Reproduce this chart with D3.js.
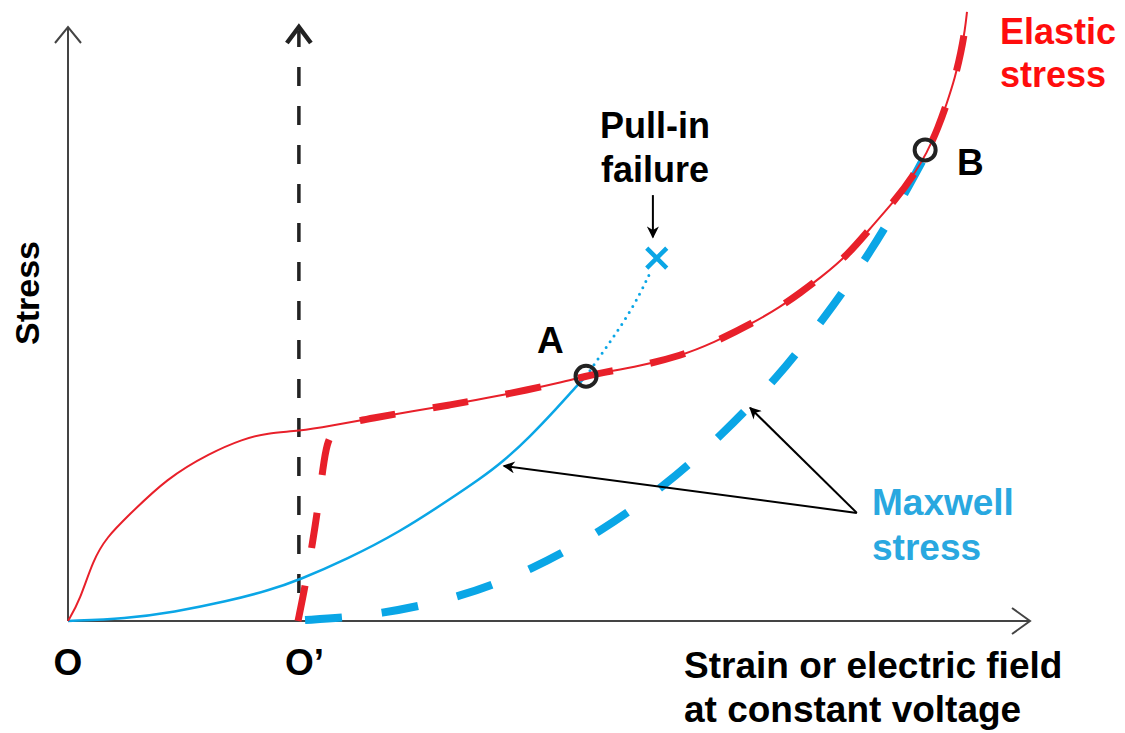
<!DOCTYPE html>
<html>
<head>
<meta charset="utf-8">
<script src="https://cdn.jsdelivr.net/npm/d3@7"></script>
<style>
  html, body { margin: 0; padding: 0; background: #fff; }
  svg { display: block; }
  text { font-family: "Liberation Sans", Arial, sans-serif; font-weight: bold; }
</style>
</head>
<body>
<svg id="chart" width="1125" height="733"></svg>
<script>
// ---------- data (abstract units: x 0-100, y 0-100) ----------
const elasticX = [0, 1.25, 2.6, 4.05, 6.13, 10.29, 14.76, 18.19, 20.69, 24.01, 27.23, 31.70, 35.86, 39.71, 43.56, 47.71, 51.46, 53.95, 55.30, 59.46, 63.62, 67.05, 71.21, 74.01, 76.09, 78.17, 80.98, 83.68, 86.17, 87.84, 89.29, 90.44, 91.37, 92.20, 92.83, 93.24, 93.45];
const elasticY = [0, 3.54, 10.27, 14.14, 17.51, 24.07, 28.28, 30.64, 31.65, 31.99, 32.83, 34.18, 35.35, 36.36, 37.54, 38.89, 40.24, 41.25, 41.75, 42.93, 44.61, 46.80, 50.17, 52.86, 55.22, 57.74, 61.45, 66.67, 71.21, 74.92, 78.79, 83.00, 87.21, 91.41, 95.79, 99.49, 102.53];

const reloadX = [23.91, 24.64, 25.47, 25.99, 26.51, 26.92, 27.55, 28.79, 31.70, 35.86, 39.71, 43.56, 47.71, 51.46, 53.95, 55.30, 59.46, 63.62, 67.05, 71.21, 74.01, 76.09, 78.17, 80.98, 83.68, 86.17, 87.84, 89.29, 90.44, 91.37, 92.20, 92.83, 93.24, 93.45];
const reloadY = [0, 5.72, 13.64, 19.19, 25.93, 29.97, 31.99, 33.25, 34.18, 35.35, 36.36, 37.54, 38.89, 40.24, 41.25, 41.75, 42.93, 44.61, 46.80, 50.17, 52.86, 55.22, 57.74, 61.45, 66.67, 71.21, 74.92, 78.79, 83.00, 87.21, 91.41, 95.79, 99.49, 102.53];

const maxwellX = [0, 6, 11, 16.5, 21, 24, 29, 34.5, 39.7, 42.8, 45.2, 48, 50.8, 52.9, 53.85];
const maxwellY = [0, 0.4, 1.5, 3.3, 5.2, 6.9, 10.4, 15.0, 20.5, 23.9, 26.8, 31.0, 35.8, 39.6, 41.2];

const pullinX = [53.85, 55.4, 56.7, 58.1, 59.5, 60.5];
const pullinY = [41.2, 44.8, 47.8, 51.2, 55.2, 58.6];

const maxwell2X = [24.64, 28.48, 32.74, 36.59, 40.75, 44.39, 48.34, 51.77, 55.30, 58.73, 61.85, 64.97, 68.09, 70.89, 73.70, 76.09, 78.90, 80.98, 83.37, 85.65, 87.53, 89.09];
const maxwell2Y = [0.17, 0.51, 1.35, 2.53, 4.21, 6.23, 8.92, 11.78, 15.15, 18.86, 22.73, 26.94, 31.65, 36.20, 41.08, 45.79, 51.68, 56.40, 62.12, 68.18, 73.57, 78.28];

const pointNames = ["A", "B"];
const pointX = [53.85, 89.1];
const pointY = [41.2, 79.3];

const failX = 61.2, failY = 61.1;
const originPrime = 24.0;

// ---------- layout ----------
const svg = d3.select("#chart");
const x = d3.scaleLinear().domain([0, 100]).range([68, 1030]);
const y = d3.scaleLinear().domain([0, 100]).range([621, 27]);

const RED = "#e8202a", BLUE = "#0aa6e6", DARK = "#222";

const zip = (xs, ys) => xs.map((v, i) => [v, ys[i]]);
const line = d3.line().x(d => x(d[0])).y(d => y(d[1])).curve(d3.curveBasis);

// arrow marker
const defs = svg.append("defs");
defs.append("marker").attr("id", "arr").attr("viewBox", "0 0 10 10")
  .attr("refX", 9).attr("refY", 5)
  .attr("orient", "auto-start-reverse").attr("markerUnits", "userSpaceOnUse")
  .attr("markerWidth", 14).attr("markerHeight", 12)
  .append("path").attr("d", "M0,0 L10,5 L0,10 L3,5 Z").attr("fill", "#000");

// axes
const axisG = svg.append("g").attr("stroke", "#444").attr("stroke-width", 2).attr("fill", "none");
axisG.append("line").attr("x1", x(0)).attr("y1", y(0)).attr("x2", x(0)).attr("y2", y(100));
axisG.append("path").attr("d", `M${x(0)-13},${y(100)+16} L${x(0)},${y(100)} L${x(0)+13},${y(100)+16}`);
axisG.append("line").attr("x1", x(0)).attr("y1", y(0)).attr("x2", x(100)).attr("y2", y(0));
axisG.append("path").attr("d", `M${x(100)-18},${y(0)-13} L${x(100)},${y(0)} L${x(100)-18},${y(0)+13}`);

// dashed vertical through O'
svg.append("line").attr("x1", x(originPrime)).attr("x2", x(originPrime))
  .attr("y1", y(0)).attr("y2", y(100) + 4)
  .attr("stroke", DARK).attr("stroke-width", 3.5).attr("stroke-dasharray", "19,20").attr("stroke-dashoffset", 11);
svg.append("path").attr("d", `M${x(originPrime)-12},${y(100)+16} L${x(originPrime)},${y(100)} L${x(originPrime)+12},${y(100)+16}`)
  .attr("stroke", DARK).attr("stroke-width", 4.5).attr("fill", "none");

// curves
svg.append("path").attr("d", line(zip(maxwellX, maxwellY)))
  .attr("stroke", BLUE).attr("stroke-width", 2.5).attr("fill", "none");
svg.append("path").attr("d", line(zip(pullinX, pullinY)))
  .attr("stroke", BLUE).attr("stroke-width", 3).attr("fill", "none")
  .attr("stroke-dasharray", "0,7").attr("stroke-linecap", "round");
svg.append("path").attr("d", line(zip(maxwell2X, maxwell2Y)))
  .attr("stroke", BLUE).attr("stroke-width", 8).attr("fill", "none")
  .attr("stroke-dasharray", "37,40");
svg.append("path").attr("d", line(zip(elasticX, elasticY)))
  .attr("stroke", RED).attr("stroke-width", 2).attr("fill", "none");
svg.append("path").attr("d", line(zip(reloadX, reloadY)))
  .attr("stroke", RED).attr("stroke-width", 7).attr("fill", "none")
  .attr("stroke-dasharray", "36,38");

// failure cross
const cs = 10;
svg.append("path")
  .attr("d", `M${x(failX)-cs},${y(failY)-cs} L${x(failX)+cs},${y(failY)+cs} M${x(failX)+cs},${y(failY)-cs} L${x(failX)-cs},${y(failY)+cs}`)
  .attr("stroke", BLUE).attr("stroke-width", 4.5).attr("fill", "none");

// points A, B
svg.selectAll("circle.pt").data(pointNames).enter().append("circle")
  .attr("cx", (d, i) => x(pointX[i])).attr("cy", (d, i) => y(pointY[i])).attr("r", 10.5)
  .attr("fill", "none").attr("stroke", DARK).attr("stroke-width", 4);

// annotation arrows
const arrows = [
  [60.8, 71.7, 60.8, 64.6],
  [82.0, 18.2, 45.3, 26.1],
  [82.0, 18.2, 70.9, 35.9]
];
svg.selectAll("line.arr").data(arrows).enter().append("line")
  .attr("x1", d => x(d[0])).attr("y1", d => y(d[1]))
  .attr("x2", d => x(d[2])).attr("y2", d => y(d[3]))
  .attr("stroke", "#000").attr("stroke-width", 2).attr("marker-end", "url(#arr)");

// text
const T = (txt, px, py, opts = {}) => svg.append("text").text(txt)
  .attr("x", px).attr("y", py)
  .attr("font-size", opts.size || 37)
  .attr("fill", opts.fill || "#000")
  .attr("text-anchor", opts.anchor || "start");

T("Elastic", 1000, 44, { fill: "#ff0d0d", size: 36 });
T("stress", 1000, 87, { fill: "#ff0d0d", size: 36 });
T("Pull-in", 655, 138, { anchor: "middle", size: 36 });
T("failure", 655, 182, { anchor: "middle", size: 36 });
T("A", 537, 353);
T("B", 957, 175);
T("Maxwell", 872, 515, { fill: "#29a8e0" });
T("stress", 872, 560, { fill: "#29a8e0" });
T("Strain or electric field", 684, 678);
T("at constant voltage", 684, 722);
T("O", 68, 675, { anchor: "middle" });
T("O\u2019", 285, 675);
svg.append("text").text("Stress")
  .attr("transform", "translate(39,293) rotate(-90)")
  .attr("text-anchor", "middle").attr("font-size", 34).attr("fill", "#000");
</script>
</body>
</html>
